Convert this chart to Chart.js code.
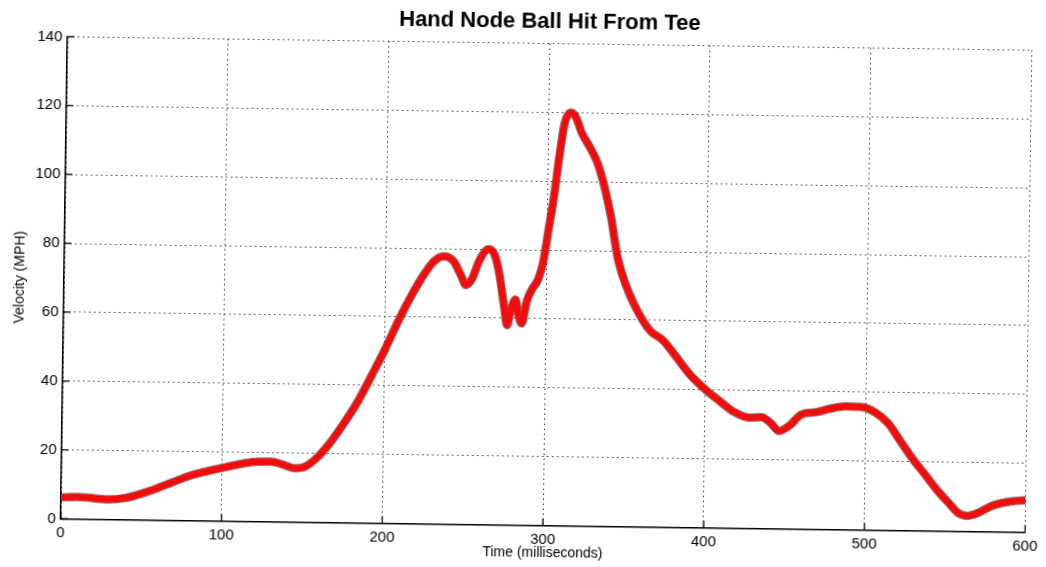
<!DOCTYPE html>
<html>
<head>
<meta charset="utf-8">
<title>Hand Node Ball Hit From Tee</title>
<script src="https://cdn.jsdelivr.net/npm/chart.js@4/dist/chart.umd.min.js"></script>
<style>
  html, body { margin: 0; padding: 0; background: #fff; overflow: hidden; }
  /* the scanned figure sits slightly crooked on the page */
  #wrap { width: 1046px; height: 567px; transform: rotate(0.8deg); transform-origin: 548px 284px; }
</style>
</head>
<body>
<div id="wrap"><canvas id="chart" width="1046" height="567"></canvas></div>
<script>
// Hand node velocity over time.
const timeMs = [0, 10, 20, 30, 40, 50, 60, 70, 80, 90, 100, 110, 120, 130,
  138, 145, 151, 159, 167, 175, 184, 192, 200,
  208, 216, 224, 230, 236, 242, 247, 250, 254, 258,
  264, 268, 271, 274, 276, 278, 281, 283, 285, 288,
  291, 295, 298, 301, 304, 307, 310, 314, 317, 321,
  326, 331, 336, 340, 344, 349, 356, 365, 373, 381,
  390, 400, 409, 417, 427, 435, 441, 446, 452, 460,
  469, 477, 487, 497, 506, 514, 522, 530, 537, 545,
  552, 558, 564, 571, 579, 589, 600];
const velocityMph = [6.2, 6.4, 6.1, 5.8, 6.3, 7.6, 9.3, 11.2, 13.0, 14.3, 15.4, 16.5, 17.3, 17.4,
  16.6, 15.6, 16.0, 18.8, 23.2, 28.6, 35.4, 42.7, 50.2,
  58.5, 66.0, 72.5, 76.3, 77.8, 76.5, 72.2, 69.5, 71.5, 76.5,
  80.0, 78.0, 72.2, 63.3, 58.0, 62.0, 65.5, 61.0, 58.6, 65.0,
  68.4, 71.5, 76.7, 86.0, 95.3, 107.0, 116.7, 120.0, 118.7, 114.0,
  110.0, 105.3, 97.5, 89.2, 78.5, 70.8, 63.5, 57.0, 54.3, 49.8,
  44.5, 40.1, 36.8, 34.0, 32.2, 32.3, 30.6, 28.4, 29.8, 33.3,
  34.0, 35.0, 35.8, 35.7, 34.1, 31.0, 25.7, 20.5, 16.5, 11.8,
  8.3, 5.4, 4.5, 5.5, 7.5, 8.7, 9.3];
const xTicks = [0, 100, 200, 300, 400, 500, 600];
const yTicks = [0, 20, 40, 60, 80, 100, 120, 140];

const FONT = '"Liberation Sans", Arial, Helvetica, sans-serif';
const points = timeMs.map((t, i) => ({ x: t, y: velocityMph[i] }));

// MATLAB-style ticks drawn on the inside of the left and bottom axes.
const innerTicks = {
  id: 'innerTicks',
  afterDatasetsDraw(chart) {
    const { ctx, chartArea: a, scales: { x, y } } = chart;
    ctx.save();
    ctx.strokeStyle = '#000';
    ctx.lineWidth = 1.3;
    ctx.beginPath();
    xTicks.forEach((v) => {
      const px = x.getPixelForValue(v);
      ctx.moveTo(px, a.bottom);
      ctx.lineTo(px, a.bottom - 7);
    });
    yTicks.forEach((v) => {
      const py = y.getPixelForValue(v);
      ctx.moveTo(a.left, py);
      ctx.lineTo(a.left + 7, py);
    });
    ctx.stroke();
    ctx.restore();
  },
};

const gridOpts = { color: '#333', lineWidth: 1, drawTicks: false };
const borderOpts = { display: true, color: '#000', width: 1.5, dash: [1.5, 3.5] };

new Chart(document.getElementById('chart'), {
  type: 'line',
  data: {
    datasets: [
      // red stroke on top (order 0), dark speckled edge underneath
      { data: points, borderColor: '#f40c0c', borderWidth: 6.5, order: 0,
        pointRadius: 0, cubicInterpolationMode: 'monotone' },
      { data: points, borderColor: 'rgba(60,0,0,0.55)', borderWidth: 8.5, order: 1,
        pointRadius: 0, cubicInterpolationMode: 'monotone' },
    ],
  },
  options: {
    responsive: false,
    animation: false,
    layout: { padding: { left: 0, right: 14, top: 0, bottom: 0 } },
    plugins: {
      legend: { display: false },
      tooltip: { enabled: false },
      title: {
        display: true, text: 'Hand Node Ball Hit From Tee', color: '#000', fullSize: false,
        font: { family: FONT, size: 22, weight: 'bold' },
        padding: { top: 8.8, bottom: 8.3 },
      },
    },
    scales: {
      x: {
        type: 'linear', min: 0, max: 600,
        afterBuildTicks: (s) => { s.ticks = xTicks.map((v) => ({ value: v })); },
        afterFit: (s) => { s.height = 41.5; },
        ticks: { color: '#000', padding: 5, font: { family: FONT, size: 15 } },
        grid: gridOpts,
        border: borderOpts,
        title: { display: true, text: 'Time (milliseconds)', color: '#000',
          font: { family: FONT, size: 14 }, padding: { top: 0, bottom: 5.6 } },
      },
      y: {
        type: 'linear', min: 0, max: 140,
        afterBuildTicks: (s) => { s.ticks = yTicks.map((v) => ({ value: v })); },
        afterFit: (s) => { s.width = 64; },
        ticks: { color: '#000', padding: 5, font: { family: FONT, size: 15 } },
        grid: gridOpts,
        border: borderOpts,
        title: { display: true, text: 'Velocity (MPH)', color: '#000',
          font: { family: FONT, size: 14 }, padding: { top: 11.6, bottom: 0 } },
      },
    },
  },
  plugins: [innerTicks],
});
</script>
</body>
</html>
